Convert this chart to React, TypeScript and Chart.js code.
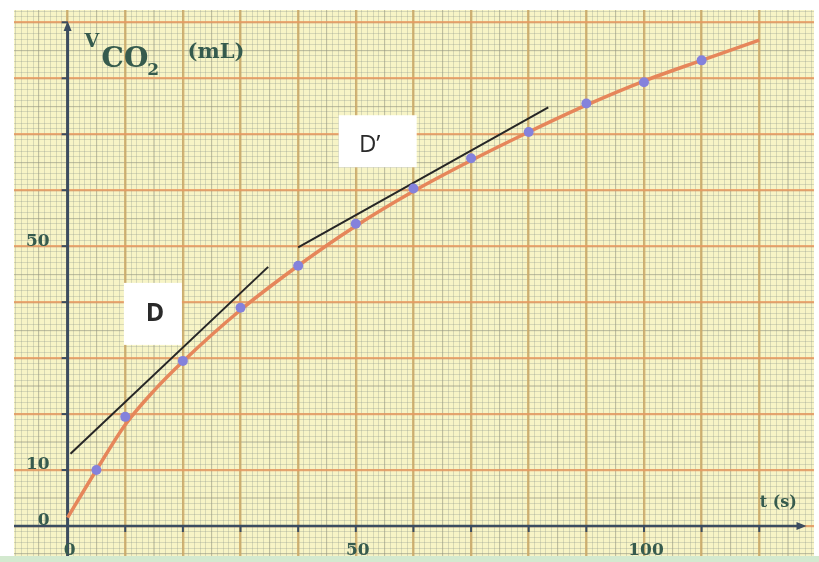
import React, { useEffect, useRef } from "react";
import { Chart, registerables } from "chart.js";
Chart.register(...registerables);

// Measured points
const times = [5, 10, 20, 30, 40, 50, 60, 70, 80, 90, 100, 110];
const volumes = [10, 19.5, 29.5, 39, 46.5, 54, 60.3, 65.7, 70.4, 75.5, 79.3, 83.2];
// Fitted curve through the points
const curveTimes = [0, 5, 10, 15, 20, 30, 40, 50, 60, 70, 80, 90, 100, 110, 120];
const curveVolumes = [1.5, 10, 18.1, 24.2, 29.4, 38.6, 46.5, 53.6, 59.8, 65.3, 70.4, 75.2, 79.5, 83.2, 86.8];
// Tangent D and D'
const tangentDTimes = [0.5, 34.8];
const tangentDVolumes = [12.9, 46.3];
const tangentDpTimes = [40, 83.4];
const tangentDpVolumes = [49.8, 74.8];
// Tick labels
const xTickLabels = [0, 50, 100];
const yTickLabels = [0, 10, 50];
const xTickMarks = [10, 20, 30, 40, 50, 60, 70, 80, 90, 100, 110, 120];
const yTickMarks = [10, 20, 30, 40, 50, 60, 70, 80, 90];
// Tangent name labels (data anchor)
const tangentNames = ["D", "D\u2019"];
const tangentNameT = [14.8, 53.8];
const tangentNameV = [37.9, 68.75];

const X_MIN = -9.3;
const X_MAX = 129.5;
const Y_MIN = -5.36;
const Y_MAX = 92.2;

const AXIS_COLOR = "#3b4c60";
const TEXT_COLOR = "#365b4e";
const SERIF = "'DejaVu Serif'";

function gridScale(axis: "x" | "y", step: number, color: string, width: number, z: number) {
  return {
    type: "linear",
    axis,
    position: axis === "x" ? "bottom" : "left",
    min: axis === "x" ? X_MIN : Y_MIN,
    max: axis === "x" ? X_MAX : Y_MAX,
    ticks: { display: false, stepSize: step, includeBounds: false, maxTicksLimit: 1000 },
    grid: { color, lineWidth: width, drawTicks: false, z },
    border: { display: false },
    afterFit: (s: any) => {
      if (axis === "x") s.height = 0;
      else s.width = 0;
    },
  };
}

const paperPlugin = {
  id: "paper",
  beforeDraw(chart: any) {
    const { ctx, chartArea: a, width, height } = chart;
    ctx.save();
    ctx.fillStyle = "#ffffff";
    ctx.fillRect(0, 0, width, height);
    ctx.fillStyle = "#d3e9cf";
    ctx.fillRect(0, a.bottom, width, height - a.bottom);
    ctx.fillStyle = "#f7f4c6";
    ctx.fillRect(a.left, a.top, a.right - a.left, a.bottom - a.top);
    ctx.restore();
  },
  beforeDatasetsDraw(chart: any) {
    const { ctx, chartArea: a } = chart;
    const xs = chart.scales.x;
    const ys = chart.scales.y;
    const x0 = xs.getPixelForValue(0);
    const y0 = ys.getPixelForValue(0);
    const yTop = ys.getPixelForValue(89.5);
    const xEnd = xs.getPixelForValue(127.5);
    ctx.save();
    ctx.strokeStyle = AXIS_COLOR;
    ctx.fillStyle = AXIS_COLOR;
    // y axis
    ctx.lineWidth = 3;
    ctx.beginPath();
    ctx.moveTo(x0, a.bottom);
    ctx.lineTo(x0, yTop + 4);
    ctx.stroke();
    ctx.beginPath();
    ctx.moveTo(x0, yTop - 4);
    ctx.lineTo(x0 - 4, yTop + 6);
    ctx.lineTo(x0 + 4, yTop + 6);
    ctx.closePath();
    ctx.fill();
    // x axis
    ctx.lineWidth = 2.5;
    ctx.beginPath();
    ctx.moveTo(a.left, y0);
    ctx.lineTo(xEnd - 4, y0);
    ctx.stroke();
    ctx.beginPath();
    ctx.moveTo(xEnd + 4, y0);
    ctx.lineTo(xEnd - 6, y0 - 4);
    ctx.lineTo(xEnd - 6, y0 + 4);
    ctx.closePath();
    ctx.fill();
    // tick marks
    ctx.lineWidth = 2;
    yTickMarks.forEach((v) => {
      const p = ys.getPixelForValue(v);
      ctx.beginPath();
      ctx.moveTo(x0 - 6, p);
      ctx.lineTo(x0, p);
      ctx.stroke();
    });
    xTickMarks.forEach((v) => {
      const p = xs.getPixelForValue(v);
      ctx.beginPath();
      ctx.moveTo(p, y0);
      ctx.lineTo(p, y0 + 6);
      ctx.stroke();
    });
    ctx.restore();
  },
  afterDatasetsDraw(chart: any) {
    const { ctx } = chart;
    const xs = chart.scales.x;
    const ys = chart.scales.y;
    const x0 = xs.getPixelForValue(0);
    const y0 = ys.getPixelForValue(0);
    ctx.save();
    // Tangent name boxes
    const boxes = [
      { w: 58, h: 62, dx: 2, dy: 0, font: "bold 25px 'Open Sans'" },
      { w: 78, h: 52, dx: -8, dy: 4, font: "24px 'Open Sans'" },
    ];
    tangentNames.forEach((name, i) => {
      const cx = xs.getPixelForValue(tangentNameT[i]);
      const cy = ys.getPixelForValue(tangentNameV[i]);
      const b = boxes[i];
      ctx.fillStyle = "#ffffff";
      ctx.fillRect(cx - b.w / 2, cy - b.h / 2, b.w, b.h);
      ctx.fillStyle = "#2a2a2a";
      ctx.font = b.font;
      ctx.textAlign = "center";
      ctx.textBaseline = "middle";
      ctx.fillText(name, cx + b.dx, cy + b.dy);
    });
    // Tick labels
    ctx.fillStyle = TEXT_COLOR;
    ctx.font = `bold 17px ${SERIF}`;
    ctx.textAlign = "right";
    ctx.textBaseline = "middle";
    yTickLabels.forEach((v) => {
      ctx.fillText(String(v), x0 - 18, ys.getPixelForValue(v) - 5);
    });
    ctx.textAlign = "center";
    xTickLabels.forEach((v) => {
      ctx.fillText(String(v), xs.getPixelForValue(v) + 2, y0 + 25);
    });
    // x-axis title
    ctx.font = `bold 16px ${SERIF}`;
    ctx.textAlign = "center";
    ctx.fillText("t (s)", xs.getPixelForValue(123.3), y0 - 23);
    // y-axis title: V CO2 (mL)
    ctx.textAlign = "left";
    ctx.textBaseline = "alphabetic";
    const tx = x0 + 17;
    ctx.font = `bold 19px ${SERIF}`;
    ctx.fillText("V", tx, 47);
    ctx.font = `bold 28px ${SERIF}`;
    ctx.fillText("CO", tx + 17, 67);
    const coW = ctx.measureText("CO").width;
    ctx.font = `bold 17px ${SERIF}`;
    ctx.fillText("2", tx + 17 + coW - 1, 75);
    ctx.font = `bold 21px ${SERIF}`;
    ctx.fillText("(mL)", tx + 103, 58);
    ctx.restore();
  },
};

export default function App() {
  const ref = useRef<HTMLCanvasElement>(null);
  useEffect(() => {
    if (!ref.current) return;
    const chart = new Chart(ref.current, {
      type: "scatter",
      data: {
        datasets: [
          {
            label: "curve",
            data: curveTimes.map((t, i) => ({ x: t, y: curveVolumes[i] })),
            showLine: true,
            borderColor: "#e6865a",
            borderWidth: 3.5,
            pointRadius: 0,
            cubicInterpolationMode: "monotone",
            order: 3,
          },
          {
            label: "D",
            data: tangentDTimes.map((t, i) => ({ x: t, y: tangentDVolumes[i] })),
            showLine: true,
            borderColor: "#262626",
            borderWidth: 2,
            pointRadius: 0,
            order: 2,
          },
          {
            label: "D'",
            data: tangentDpTimes.map((t, i) => ({ x: t, y: tangentDpVolumes[i] })),
            showLine: true,
            borderColor: "#262626",
            borderWidth: 2,
            pointRadius: 0,
            order: 2,
          },
          {
            label: "points",
            data: times.map((t, i) => ({ x: t, y: volumes[i] })),
            showLine: false,
            pointRadius: 5,
            pointBackgroundColor: "#8482dc",
            pointBorderWidth: 0,
            order: 1,
          },
        ],
      },
      options: {
        animation: false,
        responsive: false,
        events: [],
        layout: { padding: { left: 14, top: 10, right: 0, bottom: 6 } },
        plugins: { legend: { display: false }, tooltip: { enabled: false } },
        scales: {
          xf: gridScale("x", 1, "rgba(140,150,140,0.3)", 1, -4),
          yf: gridScale("y", 1, "rgba(140,150,140,0.3)", 1, -4),
          xm: gridScale("x", 5, "rgba(150,145,120,0.35)", 1.2, -3),
          ym: gridScale("y", 5, "rgba(150,145,120,0.35)", 1.2, -3),
          x: gridScale("x", 10, "rgba(205,170,105,0.85)", 2.4, -2),
          y: gridScale("y", 10, "rgba(232,152,95,0.8)", 2.2, -2),
        } as any,
      },
      plugins: [paperPlugin],
    } as any);
    return () => chart.destroy();
  }, []);
  return (
    <div style={{ position: "fixed", left: 0, top: 0, width: 819, height: 562 }}>
      <canvas ref={ref} width={819} height={562} style={{ display: "block" }} />
    </div>
  );
}
